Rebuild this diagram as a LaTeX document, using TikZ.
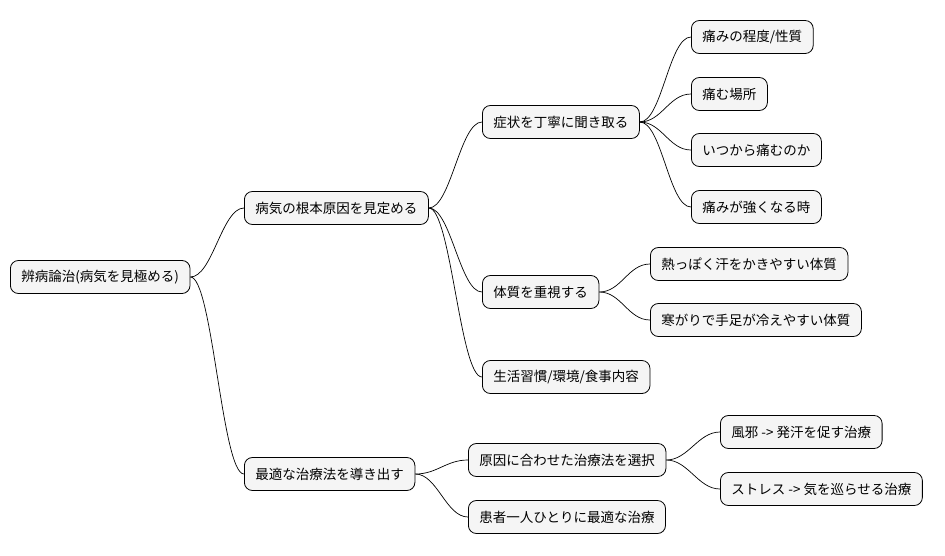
\documentclass[tikz,border=0pt]{standalone}
\usepackage{fontspec}
\newfontfamily\cjk{Noto Sans CJK JP}
\begin{document}
\begin{tikzpicture}[x=1pt,y=-1pt,
    topic/.style={draw=black,fill=gray!8,rounded corners=8pt,line width=0.8pt,
      minimum height=33pt,inner xsep=11pt,anchor=west,font=\cjk\fontsize{13.5}{16}\selectfont},
    link/.style={line width=0.7pt}]
  \useasboundingbox (0,0) rectangle (945,555);
  \node[topic] (root) at (10,277) {辨病論治(病気を見極める)};
  \node[topic] (cause) at (244,208) {病気の根本原因を見定める};
  \node[topic] (cure) at (244,474) {最適な治療法を導き出す};
  \node[topic] (sym) at (482,122) {症状を丁寧に聞き取る};
  \node[topic] (body) at (482,292) {体質を重視する};
  \node[topic] (life) at (482,377) {生活習慣/環境/食事内容};
  \node[topic] (s1) at (691,37) {痛みの程度/性質};
  \node[topic] (s2) at (691,94) {痛む場所};
  \node[topic] (s3) at (691,150) {いつから痛むのか};
  \node[topic] (s4) at (691,207) {痛みが強くなる時};
  \node[topic] (b1) at (650,264) {熱っぽく汗をかきやすい体質};
  \node[topic] (b2) at (650,320) {寒がりで手足が冷えやすい体質};
  \node[topic] (c1) at (468,460) {原因に合わせた治療法を選択};
  \node[topic] (c2) at (468,517) {患者一人ひとりに最適な治療};
  \node[topic] (c11) at (720,432) {風邪 -> 発汗を促す治療};
  \node[topic] (c12) at (720,489) {ストレス -> 気を巡らせる治療};
  % connectors
  \foreach \a/\b in {root/cause,root/cure,cause/sym,cause/body,cause/life,
      sym/s1,sym/s2,sym/s3,sym/s4,body/b1,body/b2,cure/c1,cure/c2,c1/c11,c1/c12}
    \draw[link] (\a.east) .. controls +(22,0) and +(-22,0) .. (\b.west);
\end{tikzpicture}
\end{document}
